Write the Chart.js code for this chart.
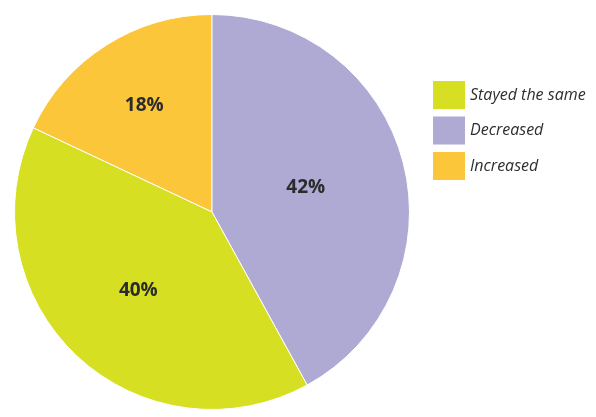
<!DOCTYPE html>
<html>
<head>
<meta charset="utf-8">
<script src="https://cdn.jsdelivr.net/npm/chart.js@4/dist/chart.umd.min.js"></script>
<style>
  html, body { margin:0; padding:0; background:#fff; }
  #wrap { width:596px; height:417px; position:relative; }
</style>
</head>
<body>
<div id="wrap"><canvas id="pie" width="596" height="417"></canvas></div>
<script>
/* DATA (clockwise from the top-left edge) */
const labels = ["Increased", "Decreased", "Stayed the same"];
const values = [18, 42, 40];
const colors = ["#FCC63A", "#AFAAD4", "#D6DF22"];

/* where each % label sits, as a share of the radius */
const labelRadius = [0.64, 0.49, 0.545];

const total = values.reduce((a,b)=>a+b,0);

// slice percentages drawn inside the pie
const sliceLabels = {
  id: "sliceLabels",
  afterDatasetsDraw(chart){
    const ctx = chart.ctx;
    const meta = chart.getDatasetMeta(0);
    ctx.save();
    ctx.font = "bold 19px 'Open Sans'";
    ctx.fillStyle = "#2b2b2b";
    ctx.textAlign = "center";
    ctx.textBaseline = "middle";
    meta.data.forEach((arc,i)=>{
      const p = arc.getProps(["x","y","startAngle","endAngle","outerRadius"], true);
      const mid = (p.startAngle + p.endAngle) / 2;
      const r = p.outerRadius * labelRadius[i];
      const pct = Math.round(values[i] / total * 100) + "%";
      ctx.fillText(pct, p.x + Math.cos(mid) * r, p.y + Math.sin(mid) * r);
    });
    ctx.restore();
  }
};

// legend on the right, listed bottom slice first
const sideLegend = {
  id: "sideLegend",
  afterDraw(chart){
    const ctx = chart.ctx;
    const order = [2, 1, 0];
    ctx.save();
    ctx.font = "italic 16px 'Open Sans'";
    ctx.textBaseline = "middle";
    order.forEach((idx,row)=>{
      const y = 81 + row * 35.5;
      ctx.fillStyle = colors[idx];
      ctx.fillRect(433, y, 32, 28);
      ctx.fillStyle = "#2e2e2e";
      ctx.fillText(labels[idx], 470, y + 14);
    });
    ctx.restore();
  }
};

new Chart(document.getElementById("pie").getContext("2d"), {
  type: "pie",
  data: {
    labels,
    datasets: [{ data: values, backgroundColor: colors, borderColor: "#fff", borderWidth: 1 }]
  },
  options: {
    responsive: false,
    animation: false,
    rotation: -values[0] / total * 360,
    layout: { padding: { left: 14, right: 186, top: 14, bottom: 7 } },
    plugins: { legend: { display: false }, tooltip: { enabled: false } }
  },
  plugins: [sliceLabels, sideLegend]
});
</script>
</body>
</html>
